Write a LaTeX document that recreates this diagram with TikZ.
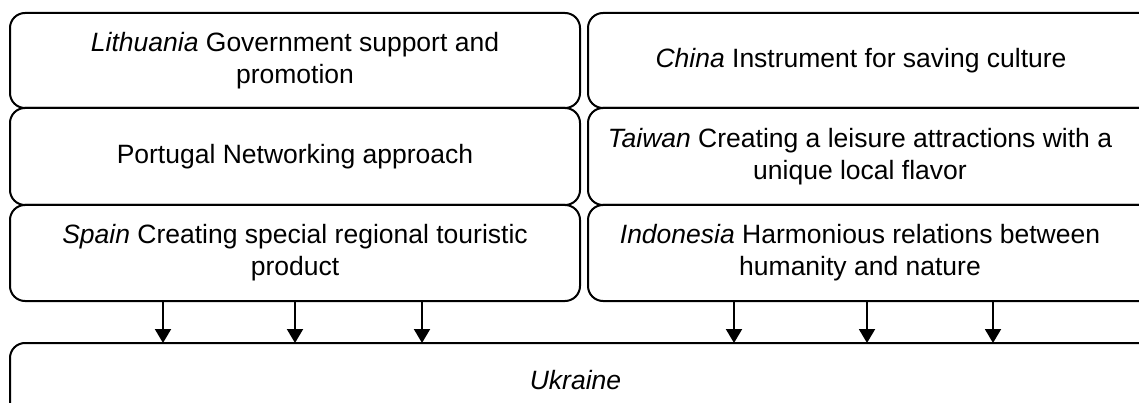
\documentclass[tikz,border=0pt]{standalone}
\usepackage{fontspec}
\setmainfont{Liberation Sans}
\usetikzlibrary{arrows.meta}
\begin{document}
\begin{tikzpicture}[x=1pt,y=-1pt,
  card/.style={draw=black, line width=2pt, rounded corners=15pt, align=center,
    inner sep=0pt, outer sep=0pt,
    font=\fontsize{26.5}{32}\selectfont},
  leftcard/.style={card, minimum width=570pt},
  rightcard/.style={card, minimum width=570pt},
  caption/.style={align=center, inner sep=0pt, font=\fontsize{26.5}{32}\selectfont},
  arr/.style={line width=2pt, -{Triangle[width=16pt,length=14pt]}}]
\useasboundingbox (0,0) rectangle (1139,403);
\clip (0,0) rectangle (1139,403);
% left column
\node[leftcard, minimum height=95pt] (lt) at (295,60.5) {\textit{Lithuania} Government support and\\promotion};
\node[leftcard, minimum height=97pt] (pt) at (295,156.5) {Portugal Networking approach};
\node[leftcard, minimum height=96pt] (es) at (295,253) {\textit{Spain} Creating special regional touristic\\product};
% right column: frames run past the right margin, captions sit left of their centre
\node[rightcard, minimum height=95pt] (cnbox) at (873,60.5) {};
\node[rightcard, minimum height=97pt] (twbox) at (873,156.5) {};
\node[rightcard, minimum height=96pt] (idbox) at (873,253) {};
\node[caption] (cn) at (861,60.5) {\textit{China} Instrument for saving culture};
\node[caption] (tw) at (860,156.5) {\textit{Taiwan} Creating a leisure attractions with a\\unique local flavor};
\node[caption] (id) at (860,253) {\textit{Indonesia} Harmonious relations between\\humanity and nature};
% target
\node[card, minimum width=1160pt, minimum height=74pt] (ua) at (590,380) {};
\node[caption] (uat) at (575.5,380) {\textit{Ukraine}};
% connectors
\foreach \dx in {153,285,412} {
  \draw[arr] (es.south west) ++(\dx,0) coordinate (s) -- (s |- ua.north);
}
\foreach \dx in {146,279,405} {
  \draw[arr] (idbox.south west) ++(\dx,0) coordinate (s) -- (s |- ua.north);
}
\end{tikzpicture}
\end{document}
